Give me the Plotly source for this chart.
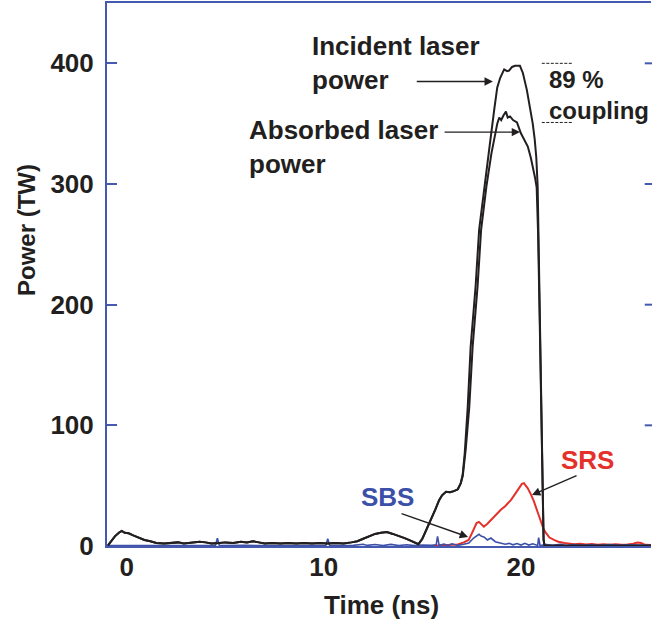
import plotly.graph_objects as go

# ---------------- data ----------------
t_inc = [-0.95, -0.8, -0.6, -0.4, -0.25, -0.1, 0.1, 0.3, 0.6, 0.9, 1.2, 1.5, 1.9, 2.3, 2.6, 2.9,
         3.3, 3.7, 4.0, 4.3, 4.7, 5.0, 5.4, 5.8, 6.1, 6.4, 6.7, 7.0, 7.4, 7.8, 8.2, 8.6, 9.0,
         9.4, 9.8, 10.2, 10.6, 11.0, 11.4, 11.7, 12.0, 12.3, 12.6, 12.9, 13.2, 13.5, 13.8,
         14.1, 14.4, 14.7, 14.8, 15.0, 15.2, 15.45, 15.65, 15.85, 16.0, 16.2, 16.4, 16.6,
         16.8, 16.95, 17.05, 17.15, 17.3, 17.45, 17.7, 17.88, 18.15, 18.4, 18.65, 18.8,
         18.95, 19.07, 19.15, 19.3, 19.4, 19.55, 19.7, 19.95, 20.1, 20.3, 20.45, 20.6, 20.7,
         20.78, 20.85, 20.9, 20.97, 21.03, 21.1, 21.15, 21.2, 23.0, 26.6]
p_inc = [0.5, 4, 8, 11, 12.5, 11, 10.5, 9, 7, 5, 4, 2.5, 2, 2.5, 3, 2,
         2.5, 3.5, 3, 2, 2.5, 3, 2.5, 3.5, 3, 4, 3, 2, 2.5, 2, 2.5, 2, 2.5,
         2, 2.5, 2, 2.5, 2, 3, 4, 6, 8, 10, 11, 11.5, 10, 8.5,
         6.5, 4.5, 2.5, 1.5, 6, 13, 21.6, 30, 38, 42, 45, 44.5, 45.5,
         47, 52, 60, 77, 115, 165, 215, 262, 300, 330, 362, 380,
         388, 393, 395, 393.5, 394, 397, 398, 398, 392, 378, 365, 350, 337,
         322, 298, 250, 180, 110, 40, 5, 0.5, 0.3, 0.3]

t_abs = [-0.95, -0.8, -0.6, -0.4, -0.25, -0.1, 0.1, 0.3, 0.6, 0.9, 1.2, 1.5, 1.9, 2.3, 2.6, 2.9,
         3.3, 3.7, 4.0, 4.3, 4.7, 5.0, 5.4, 5.8, 6.1, 6.4, 6.7, 7.0, 7.4, 7.8, 8.2, 8.6, 9.0,
         9.4, 9.8, 10.2, 10.6, 11.0, 11.4, 11.7, 12.0, 12.3, 12.6, 12.9, 13.2, 13.5, 13.8,
         14.1, 14.4, 14.7, 14.8, 15.0, 15.2, 15.45, 15.65, 15.85, 16.0, 16.2, 16.4, 16.6,
         16.8, 16.95, 17.05, 17.2, 17.38, 17.55, 17.8, 17.98, 18.25, 18.5, 18.65, 18.8,
         18.9, 19.0, 19.12, 19.24, 19.33, 19.45, 19.6, 19.8, 20.0, 20.2, 20.35, 20.5, 20.6,
         20.72, 20.8, 20.87, 20.95, 21.02, 21.1, 21.15, 21.2, 23.0, 26.6]
p_abs = [0.5, 4, 8, 11, 12.5, 11, 10.5, 9, 7, 5, 4, 2.5, 2, 2.5, 3, 2,
         2.5, 3.5, 3, 2, 2.5, 3, 2.5, 3.5, 3, 4, 3, 2, 2.5, 2, 2.5, 2, 2.5,
         2, 2.5, 2, 2.5, 2, 3, 4, 6, 8, 10, 11, 11.5, 10, 8.5,
         6.5, 4.5, 2.5, 1.5, 6, 13, 21.6, 30, 38, 42, 45, 44.5, 45.5,
         47, 52, 58, 80, 115, 165, 215, 262, 298, 325, 338, 350,
         355, 353, 357, 360, 355, 356, 353, 351, 342, 336, 331, 322, 315,
         305, 297, 260, 190, 115, 40, 5, 0.5, 0.3, 0.3]

t_srs = [15.5, 16.0, 16.5, 16.8, 17.1, 17.35, 17.5, 17.62, 17.75, 17.87, 18.0, 18.12, 18.3,
         18.48, 18.7, 18.98, 19.2, 19.49, 19.7, 19.9, 20.05, 20.15, 20.25, 20.34, 20.5,
         20.66, 20.85, 21.0, 21.15, 21.27, 21.45, 21.68, 21.9, 22.2, 22.4, 22.7, 23.0,
         23.3, 23.6, 23.9, 24.2, 24.5, 24.8, 25.1, 25.4, 25.7, 25.9, 26.1, 26.3, 26.6]
p_srs = [0.3, 0.5, 0.8, 1.2, 3, 5, 10, 15, 19, 20, 17.5, 16, 18.5,
         21.6, 25, 30, 33, 38, 43, 48, 51.5, 52, 50, 48, 43,
         37, 28, 21.6, 14, 10.8, 7, 5, 3.5, 2.5, 2.2, 1.5, 1.8,
         1.2, 1.6, 1.0, 1.5, 1.1, 1.4, 1.0, 1.3, 1.8, 2.8, 2.5, 1.0, 0.8]

t_sbs = [-1.0, 0.5, 1.0, 1.1, 4.5, 4.6, 4.7, 6.0, 8.0, 10.1, 10.2, 10.3, 11.5, 12.0, 12.2,
         12.6, 13.0, 13.4, 13.8, 14.2, 14.6, 15.0, 15.5, 15.7, 15.77, 15.85, 16.1, 16.3,
         16.5, 16.8, 17.1, 17.36, 17.6, 17.87, 18.0, 18.12, 18.3, 18.48, 18.7, 18.98, 19.2,
         19.4, 19.6, 19.8, 20.0, 20.2, 20.4, 20.6, 20.85, 20.9, 20.97, 21.3, 21.6, 22.0,
         22.3, 22.7, 23.0, 23.5, 24.0, 24.5, 25.0, 25.5, 26.0, 26.6]
p_sbs = [0.3, 0.3, 0.8, 0.2, 0.3, 6.5, 0.3, 0.5, 0.4, 0.3, 6, 0.3, 0.5, 1.5, 0.5,
         1.2, 0.4, 1.3, 0.4, 1.0, 0.3, 0.8, 0.5, 1.0, 8, 0.5, 1.5, 0.5,
         1.8, 0.5, 1.5, 2.5, 6.6, 9.7, 8, 7.5, 5, 6.6, 3.6, 2.5, 1.5,
         2.2, 1.0, 2.0, 0.8, 2.2, 0.8, 1.8, 0.5, 7, 0.3, 1.2, 0.5, 1.5,
         0.4, 1.2, 0.5, 1.0, 0.6, 1.1, 0.5, 0.9, 0.6, 0.5]

y_ticks = [0, 100, 200, 300, 400]
x_ticks = [0, 10, 20]

# ---------------- styles ----------------
BLACK = "#231f20"
RED = "#e5312b"
BLUE = "#3c50a8"
AXIS_BLUE = "#4659b0"
FONT = "Liberation Sans, Arial, sans-serif"
FS = 26

fig = go.Figure()
fig.add_trace(go.Scatter(x=t_srs, y=p_srs, mode="lines", line=dict(color=RED, width=2), hoverinfo="skip"))
fig.add_trace(go.Scatter(x=t_sbs, y=p_sbs, mode="lines", line=dict(color=BLUE, width=1.6), hoverinfo="skip"))
fig.add_trace(go.Scatter(x=t_abs, y=p_abs, mode="lines", line=dict(color=BLACK, width=2), hoverinfo="skip"))
fig.add_trace(go.Scatter(x=t_inc, y=p_inc, mode="lines", line=dict(color=BLACK, width=2), hoverinfo="skip"))

txt = dict(family=FONT, size=FS, color=BLACK, weight="bold")

ann = []
ann.append(dict(x=9.3, y=400, xref="x", yref="y", text="Incident laser<br>power", showarrow=False,
                xanchor="left", yanchor="middle", align="left", font=txt))
ann.append(dict(x=6.09, y=331, xref="x", yref="y", text="Absorbed laser<br>power", showarrow=False,
                xanchor="left", yanchor="middle", align="left", font=txt))
ann.append(dict(x=21.3, y=374, xref="x", yref="y", text="89 %<br>coupling", showarrow=False,
                xanchor="left", yanchor="middle", align="left",
                font=dict(family=FONT, size=24, color=BLACK, weight="bold")))
ann.append(dict(x=13.24, y=41, xref="x", yref="y", text="SBS", showarrow=False,
                xanchor="center", yanchor="middle", font=dict(family=FONT, size=FS, color=BLUE, weight="bold")))
ann.append(dict(x=23.4, y=71, xref="x", yref="y", text="SRS", showarrow=False,
                xanchor="center", yanchor="middle", font=dict(family=FONT, size=FS, color=RED, weight="bold")))
for (tx, ty, ax, ay) in [(18.58, 385, 14.64, 385), (19.96, 343, 16.05, 343),
                         (17.32, 7.5, 13.87, 27.3), (20.56, 42.3, 22.9, 58.8)]:
    ann.append(dict(x=tx, y=ty, ax=ax, ay=ay, xref="x", yref="y", axref="x", ayref="y", text="",
                    showarrow=True, arrowhead=2, arrowsize=1.2, arrowwidth=1.4, arrowcolor=BLACK, standoff=0))
ann.append(dict(x=-0.147, y=0.582, xref="paper", yref="paper", text="Power (TW)", showarrow=False,
                textangle=-90, xanchor="center", yanchor="middle",
                font=dict(family=FONT, size=24, color=BLACK, weight="bold")))
ann.append(dict(x=0.5055, y=-0.1087, xref="paper", yref="paper", text="Time (ns)", showarrow=False,
                xanchor="center", yanchor="middle", font=txt))

shapes = [
    dict(type="line", x0=21.06, x1=22.64, y0=400, y1=400, xref="x", yref="y",
         line=dict(color=BLACK, width=1, dash="3px,1.5px")),
    dict(type="line", x0=21.06, x1=22.64, y0=351, y1=351, xref="x", yref="y",
         line=dict(color=BLACK, width=1, dash="3px,1.5px")),
]
# right-edge inward ticks (the right frame line itself lies outside the picture)
for v in y_ticks[1:]:
    shapes.append(dict(type="line", xref="paper", yref="y", x0=0.9885, x1=1.01, y0=v, y1=v,
                       line=dict(color=AXIS_BLUE, width=2)))

fig.update_layout(
    width=652, height=629,
    margin=dict(l=107, r=1, t=3, b=83),
    paper_bgcolor="white", plot_bgcolor="white",
    showlegend=False,
    annotations=ann, shapes=shapes,
    xaxis=dict(range=[-1.0, 26.6], tickvals=x_ticks, ticktext=[str(v) for v in x_ticks],
               showgrid=False, zeroline=False, showline=True, linecolor=AXIS_BLUE, linewidth=2,
               mirror=True, ticks="", ticklabelstandoff=-3,
               tickfont=dict(family=FONT, size=FS, color=BLACK, weight="bold")),
    yaxis=dict(range=[0, 450], tickvals=y_ticks, ticktext=[str(v) for v in y_ticks],
               showgrid=False, zeroline=False, showline=True, linecolor=AXIS_BLUE, linewidth=2,
               mirror=False, ticks="inside", ticklen=10, tickwidth=2, tickcolor=AXIS_BLUE,
               ticklabelstandoff=6,
               tickfont=dict(family=FONT, size=FS, color=BLACK, weight="bold")),
)

fig.write_html("out.html", config={"displayModeBar": False},
               post_script="document.body.style.margin='0';document.body.style.overflow='hidden';")
